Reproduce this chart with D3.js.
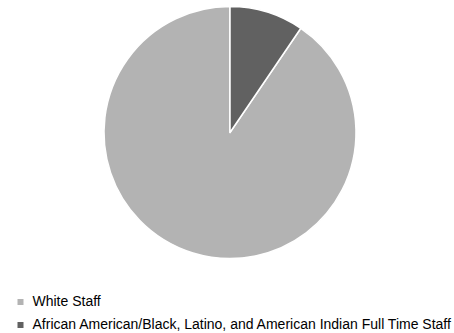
<!DOCTYPE html>
<html>
<head>
<meta charset="utf-8">
<script src="https://cdn.jsdelivr.net/npm/d3@7"></script>
<style>
  html, body { margin: 0; padding: 0; background: #fff; }
  svg { display: block; }
  text { font-family: "Liberation Sans", Arial, sans-serif; fill: #000; }
</style>
</head>
<body>
<svg id="chart" width="454" height="333"></svg>
<script>
// Staff composition (percent of full-time staff)
const categories = ["White Staff", "African American/Black, Latino, and American Indian Full Time Staff"];
const values = [90.5, 9.5];
const colors = ["#b3b3b3", "#616161"];

const svg = d3.select("#chart");
const cx = 230, cy = 132.5, radius = 126;

const total = d3.sum(values);
// The minority slice sits at 12 o'clock, running clockwise; white fills the rest.
const offset = 2 * Math.PI * values[1] / total;
const pie = d3.pie().sort(null).value(d => d)
  .startAngle(offset).endAngle(offset + 2 * Math.PI);
const arc = d3.arc().innerRadius(0).outerRadius(radius);

const g = svg.append("g").attr("transform", `translate(${cx},${cy})`);
g.selectAll("path")
  .data(pie(values))
  .join("path")
  .attr("d", arc)
  .attr("fill", (d, i) => colors[i])
  .attr("stroke", "#fff")
  .attr("stroke-width", 1.5)
  .attr("stroke-linejoin", "round");

// Legend
const legend = svg.append("g").attr("transform", "translate(17.5,299)");
const rows = legend.selectAll("g")
  .data(categories)
  .join("g")
  .attr("transform", (d, i) => `translate(0,${i * 23})`);
rows.append("rect")
  .attr("width", 6).attr("height", 6)
  .attr("fill", (d, i) => colors[i]);
rows.append("text")
  .attr("x", 15).attr("y", 7)
  .attr("font-size", 14)
  .text(d => d);
</script>
</body>
</html>
